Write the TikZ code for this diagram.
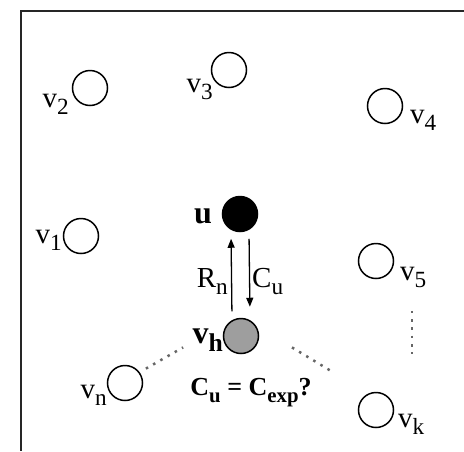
\documentclass[tikz,border=0pt]{standalone}
\usepackage{fontspec}
\setmainfont{Liberation Serif}
\usepackage{tikz}
\usetikzlibrary{arrows.meta,positioning}

\makeatletter
\newcommand{\sub}[1]{\raisebox{-.27em}{\fontsize{\strip@pt\dimexpr\f@size pt*4/5\relax}{0}\selectfont #1}}
\makeatother

\begin{document}
\begin{tikzpicture}[
  x=1pt, y=-1pt,
  vtx/.style={
    draw, circle, line width=1.5pt, minimum size=35pt, inner sep=0pt
  },
  lab/.style={inner sep=0pt, font=\fontsize{29}{30}\selectfont},
  blab/.style={inner sep=0pt, font=\fontsize{32}{34}\selectfont\bfseries},
  arr/.style={-{Triangle[length=9pt,width=7pt]}, line width=1.3pt,
    shorten <=6.5pt, shorten >=6.5pt},
  dots/.style={line width=2.5pt, dash pattern=on 2.5pt off 5.8pt, black!60}
]
\useasboundingbox (0,0) rectangle (464,451);

% Frame
\draw[line width=1.8pt, black!85] (464,11) -- (21,11) -- (21,451);

% Other nodes
\node[vtx] (v1) at (81,236) {};
\node[vtx] (v2) at (90,88) {};
\node[vtx] (v3) at (229,70) {};
\node[vtx] (v4) at (385,106) {};
\node[vtx] (v5) at (376,261) {};
\node[vtx] (vk) at (376,410) {};
\node[vtx] (vn) at (125,383) {};

\node[lab, anchor=base east] (lv1) at (62,243) {v\sub{1}};
\node[lab, anchor=base east] (lv2) at (69,107) {v\sub{2}};
\node[lab, anchor=base east] (lv3) at (213,92) {v\sub{3}};
\node[lab, anchor=base west] (lv4) at (410,123) {v\sub{4}};
\node[lab, anchor=base west] (lv5) at (400,280) {v\sub{5}};
\node[lab, anchor=base west] (lvk) at (398,427) {v\sub{k}};
\node[lab, anchor=base east] (lvn) at (107,398) {v\sub{n}};

% u and its helper
\node[vtx, fill=black] (u) at (240,214) {};
\node[vtx, fill=black!38] (vh) at (241,336) {};
\node[blab, anchor=base east] (lu) at (212,223) {u};
\node[blab, anchor=base east] (lvh) at (223,343) {v\sub{h}};

% Messages
\draw[arr] ([xshift=-9pt]vh.north) -- ([xshift=-9pt]u.south);
\draw[arr, shorten >=11pt] ([xshift=9pt]u.south) -- ([xshift=9pt]vh.north);
\node[lab, anchor=base east] (rn) at (228,287) {R\sub{n}};
\node[lab, anchor=base west] (cu) at (252,287) {C\sub{u}};

\node[lab, anchor=base, font=\fontsize{26}{28}\selectfont\bfseries] (check)
  at (251,395) {C\sub{u} = C\sub{exp}?};

% Dotted gaps
\coordinate (dl1) at (145.9,368.6);
\coordinate (dl2) at (183.1,347.4);
\coordinate (dr1) at (292,347.4);
\coordinate (dr2) at (332,371.6);
\coordinate (dv1) at (412,310.8);
\coordinate (dv2) at (412,354.2);
\draw[dots] (dl1) -- (dl2);
\draw[dots] (dr1) -- (dr2);
\draw[dots] (dv1) -- (dv2);

\end{tikzpicture}
\end{document}
